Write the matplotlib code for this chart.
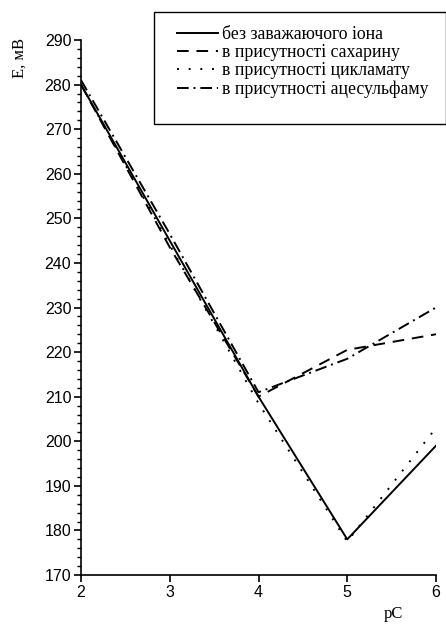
import matplotlib
matplotlib.use("Agg")
import matplotlib.pyplot as plt
from matplotlib.patches import Rectangle
from matplotlib.ticker import MultipleLocator

pc = [2, 3, 4, 5, 6]
e_clean = [280, 245, 210, 178, 199]
e_sacch = [280, 243.5, 210, 220.5, 224]
e_cycl = [280, 244, 208.5, 177.5, 203]
e_acesulf = [281, 246.5, 211, 218.5, 230]

labels = ["без заважаючого іона",
          "в присутності сахарину",
          "в присутності цикламату",
          "в присутності ацесульфаму"]

serif = "Liberation Serif"
sans = "Liberation Sans"

fig = plt.figure(figsize=(4.46, 6.24), dpi=100)
ax = fig.add_axes([81 / 446, 49 / 624, (436 - 81) / 446, (575 - 40) / 624])

lw = 1.4
h1, = ax.plot(pc, e_clean, color="black", lw=lw, linestyle="-")
h2, = ax.plot(pc, e_sacch, color="black", lw=lw, linestyle=(0, (6, 4)))
h3, = ax.plot(pc, e_cycl, color="black", lw=lw, linestyle=(0, (1, 5)))
h4, = ax.plot(pc, e_acesulf, color="black", lw=lw, linestyle=(0, (6, 2.5, 1, 2.5)))

ax.set_xlim(2, 6)
ax.set_ylim(170, 290)
ax.xaxis.set_major_locator(MultipleLocator(1))
ax.yaxis.set_major_locator(MultipleLocator(10))
ax.yaxis.set_minor_locator(MultipleLocator(2))

for side in ("top", "right"):
    ax.spines[side].set_visible(False)
for side in ("left", "bottom"):
    ax.spines[side].set_linewidth(1.2)

ax.tick_params(axis="both", which="major", direction="out", length=5, width=1.2,
               labelsize=11.5, colors="black", pad=2)
ax.tick_params(axis="y", which="minor", direction="out", length=3, width=1.0)
for lab in ax.get_xticklabels() + ax.get_yticklabels():
    lab.set_fontfamily(sans)

fig.text(20 / 446, 1 - 58 / 624, "E, мВ", rotation=90, ha="center", va="center",
         fontfamily=serif, fontsize=12)
fig.text(393 / 446, 1 - 614 / 624, "pC", ha="center", va="center",
         fontfamily=serif, fontsize=12)

# legend box with its own frame
fig.patches.append(Rectangle((154 / 446, 1 - 124 / 624), (446 - 154) / 446, (124 - 12) / 624,
                             transform=fig.transFigure, fill=False,
                             edgecolor="black", lw=1.0))
fig.legend([h1, h2, h3, h4], labels, loc="upper left",
           bbox_to_anchor=(177 / 446, 1 - 26 / 624), frameon=False,
           prop={"family": serif, "size": 12.8}, handlelength=2.3,
           handletextpad=0.22, labelspacing=0.07, borderpad=0, borderaxespad=0)

fig.savefig("out.png", dpi=100)
